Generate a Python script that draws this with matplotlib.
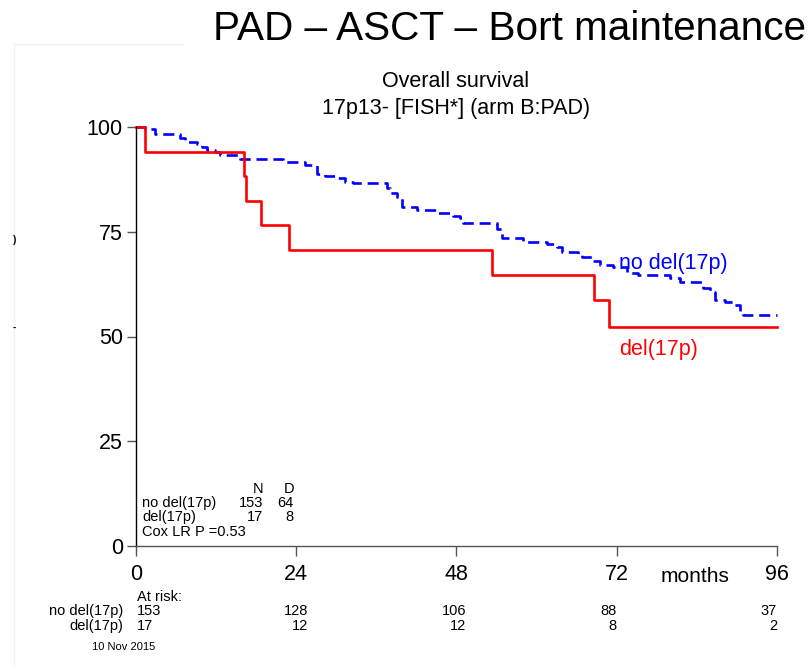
import numpy as np
import matplotlib
matplotlib.use("Agg")
from matplotlib import pyplot as plt
from matplotlib.lines import Line2D

plt.rcParams['font.family'] = ['Liberation Sans', 'DejaVu Sans']

W, H = 812, 667

# Kaplan-Meier steps, months vs % surviving
t_nodel = [0, 1.35, 2.85, 6.6, 7.3, 9.1, 9.9, 10.6, 11.8, 12.6, 15.6, 22.0,
           25.3, 27.1, 28.3, 30.1, 31.3, 32.5, 37.6, 38.0, 39.1, 39.8, 42.1,
           45.1, 47.5, 48.5, 49.0, 54.1, 54.8, 58.0, 61.6, 63.1, 63.8, 66.2,
           66.8, 68.4, 69.5, 71.4, 73.5, 75.2, 80.0, 81.5, 84.9, 86.0, 86.7,
           88.2, 89.4, 90.5, 90.9, 96]
s_nodel = [100, 99.5, 98.3, 97.4, 96.4, 96.0, 95.2, 94.5, 94.0, 93.3, 92.4, 91.6,
           90.9, 88.8, 88.3, 87.8, 86.9, 86.6, 85.4, 84.2, 83.3, 80.9, 80.2,
           79.5, 78.8, 78.3, 77.1, 75.7, 73.5, 72.6, 72.1, 71.4, 70.2, 69.7,
           69.0, 68.0, 67.1, 66.6, 65.2, 64.7, 64.0, 63.0, 61.6, 60.6, 58.7,
           58.2, 57.5, 55.8, 55.1, 55.1]

t_del = [0, 1.35, 16.1, 16.5, 18.7, 22.9, 53.3, 68.6, 70.8, 96]
s_del = [100, 94.1, 88.2, 82.4, 76.5, 70.6, 64.7, 58.8, 52.3, 52.3]

groups = ['no del(17p)', 'del(17p)']
n_pat = [153, 17]
n_dead = [64, 8]
cox_p = 0.53

risk_times = [0, 24, 48, 72, 96]
at_risk_nodel = [153, 128, 106, 88, 37]
at_risk_del = [17, 12, 12, 8, 2]

xticks = [0, 24, 48, 72, 96]
yticks = [0, 25, 50, 75, 100]


def fx(px):
    return px / W


def fy(py):
    return 1 - py / H


fig = plt.figure(figsize=(W / 100, H / 100), dpi=100)
ax = fig.add_axes([fx(136), fy(546), 641 / W, 419 / H])

ax.step(t_nodel, s_nodel, where='post', color='#0000ff', lw=1.9,
        dashes=(4.2, 2.2), clip_on=False)
ax.step(t_del, s_del, where='post', color='#ff0000', lw=1.9, clip_on=False)

ax.set_xlim(0, 96)
ax.set_ylim(0, 100)
ax.set_xticks(xticks)
ax.set_yticks(yticks)
ax.tick_params(axis='y', length=6.5, width=1, color='#555555', pad=3,
               labelsize=15.5)
ax.tick_params(axis='x', length=7, width=1, color='#555555', pad=6,
               labelsize=15.5)
for s in ['top', 'right']:
    ax.spines[s].set_visible(False)
ax.spines['left'].set_color('black')
ax.spines['left'].set_linewidth(1)
ax.spines['bottom'].set_color('#555555')
ax.spines['bottom'].set_linewidth(1)

# curve labels
ax.text(72.3, 66.2, 'no del(17p)', color='#0000ff', fontsize=15.5)
ax.text(72.3, 45.6, 'del(17p)', color='#ff0000', fontsize=15.5)

# titles
fig.text(fx(213), fy(40), 'PAD \u2013 ASCT \u2013 Bort maintenance',
         fontsize=29.2, va='baseline', ha='left')
fig.text(fx(456), fy(87), 'Overall survival', fontsize=15.5,
         ha='center', va='baseline')
fig.text(fx(456), fy(114), '17p13- [FISH*] (arm B:PAD)', fontsize=15.5,
         ha='center', va='baseline')

fig.text(fx(695), fy(582), 'months', fontsize=15, ha='center', va='baseline')

# N / D summary
fs = 10.5
fig.text(fx(263), fy(493), 'N', fontsize=fs, ha='right', va='baseline')
fig.text(fx(294), fy(493), 'D', fontsize=fs, ha='right', va='baseline')
for i, g in enumerate(groups):
    yb = 507 + 14 * i
    fig.text(fx(142), fy(yb), g, fontsize=fs, ha='left', va='baseline')
    fig.text(fx(263), fy(yb), str(n_pat[i]), fontsize=fs, ha='right', va='baseline')
    fig.text(fx(294), fy(yb), str(n_dead[i]), fontsize=fs, ha='right', va='baseline')
fig.text(fx(142), fy(536), 'Cox LR P =%.2f' % cox_p, fontsize=fs,
         ha='left', va='baseline')

# numbers at risk
fig.text(fx(137), fy(601), 'At risk:', fontsize=fs, ha='left', va='baseline')
right_px = [None, 308, 466, 617, 777]
for row, (g, vals) in enumerate(zip(groups, [at_risk_nodel, at_risk_del])):
    yb = 615 + 15 * row
    fig.text(fx(123), fy(yb), g, fontsize=fs, ha='right', va='baseline')
    for k, v in enumerate(vals):
        if k == 0:
            fig.text(fx(137), fy(yb), str(v), fontsize=fs, ha='left', va='baseline')
        else:
            fig.text(fx(right_px[k]), fy(yb), str(v), fontsize=fs,
                     ha='right', va='baseline')

fig.text(fx(92), fy(650), '10 Nov 2015', fontsize=8, ha='left', va='baseline')

# faint frame and clipped marks at the left edge
fig.add_artist(Line2D([fx(14), fx(183)], [fy(44), fy(44)], color='#eef1f3', lw=1))
fig.add_artist(Line2D([fx(14), fx(14)], [fy(44), fy(667)], color='#eef1f3', lw=1))
fig.text(fx(13), fy(240), ')', fontsize=7, fontweight='bold', va='center')
fig.text(fx(13), fy(328), '-', fontsize=7, fontweight='bold', va='center')

fig.savefig('out.png', dpi=100)
